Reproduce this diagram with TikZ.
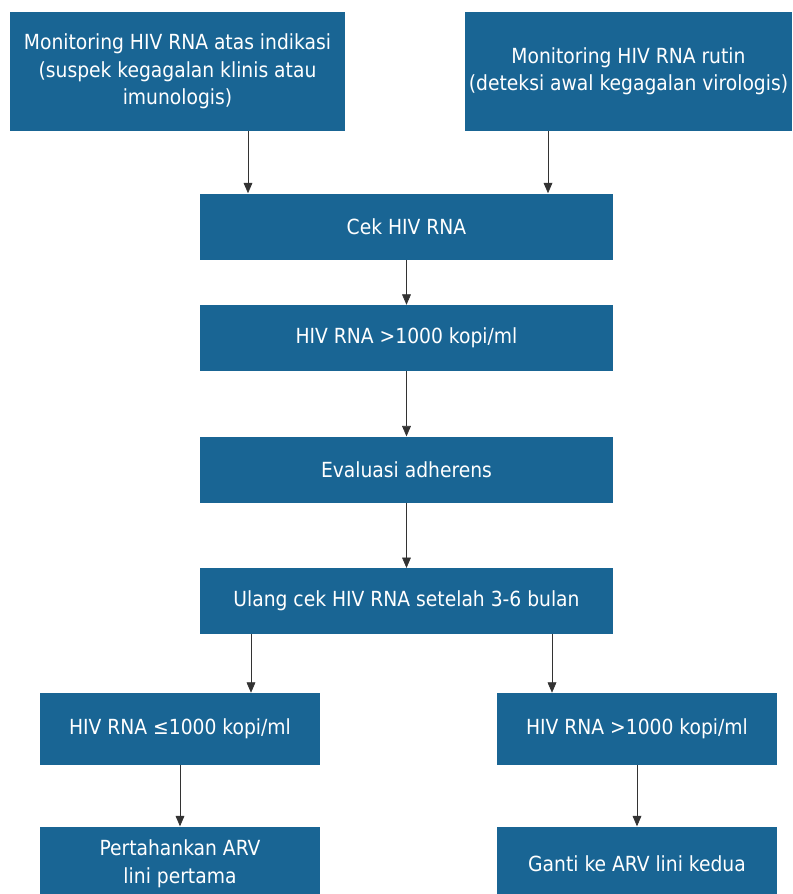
\documentclass[tikz,border=0pt]{standalone}
\usepackage{fontspec}
\setmainfont{DejaVu Sans Condensed}
\usepackage{tikz}
\usetikzlibrary{positioning,arrows.meta}
\definecolor{boxblue}{RGB}{25,101,148}

\begin{document}
\begin{tikzpicture}[x=0.25mm, y=-0.25mm,
  blk/.style={fill=boxblue, text=white, inner sep=0pt, align=center,
              font=\fontsize{14.8}{19.5}\selectfont},
  topbox/.style={blk, minimum height=29.75mm},
  midbox/.style={blk, minimum width=103.25mm, minimum height=16.5mm},
  lowbox/.style={blk, minimum width=70mm, minimum height=18mm},
  endbox/.style={blk, minimum width=70mm, minimum height=18.5mm},
  arr/.style={-{Triangle[length=2.6mm, width=2.2mm]}, draw=black!80, line width=0.5pt},
]
  \useasboundingbox (0,0) rectangle (792,894);
  \node[topbox, minimum width=83.75mm] (mind) at (177.5,71.5) {Monitoring HIV RNA atas indikasi\\(suspek kegagalan klinis atau\\imunologis)};
  \node[topbox, minimum width=81.75mm] (mrut) at (628.5,71.5) {Monitoring HIV RNA rutin\\(deteksi awal kegagalan virologis)};
  \node[midbox] (cek) at (406.5,226.5) {Cek HIV RNA};
  \node[midbox, below=11.25mm of cek] (vl) {HIV RNA >1000 kopi/ml};
  \node[midbox, below=16.25mm of vl] (adh) {Evaluasi adherens};
  \node[midbox, below=16.25mm of adh] (ulang) {Ulang cek HIV RNA setelah 3-6 bulan};
  \node[lowbox] (vlok) at (180,729) {HIV RNA ≤1000 kopi/ml};
  \node[lowbox] (vlhi) at (637,729) {HIV RNA >1000 kopi/ml};
  \node[endbox, below=15.25mm of vlok] (keep) {Pertahankan ARV\\lini pertama};
  \node[endbox, below=15.25mm of vlhi] (swap) {Ganti ke ARV lini kedua};

  % columns of the side arrows
  \coordinate (cl) at (248,0);
  \coordinate (cr) at (548,0);
  \coordinate (bl) at (251,0);
  \coordinate (br) at (552,0);

  \draw[arr] (mind.south -| cl) -- (cek.north -| cl);
  \draw[arr] (mrut.south -| cr) -- (cek.north -| cr);
  \draw[arr] (cek) -- (vl);
  \draw[arr] (vl) -- (adh);
  \draw[arr] (adh) -- (ulang);
  \draw[arr] (ulang.south -| bl) -- (vlok.north -| bl);
  \draw[arr] (ulang.south -| br) -- (vlhi.north -| br);
  \draw[arr] (vlok) -- (keep);
  \draw[arr] (vlhi) -- (swap);
\end{tikzpicture}
\end{document}
